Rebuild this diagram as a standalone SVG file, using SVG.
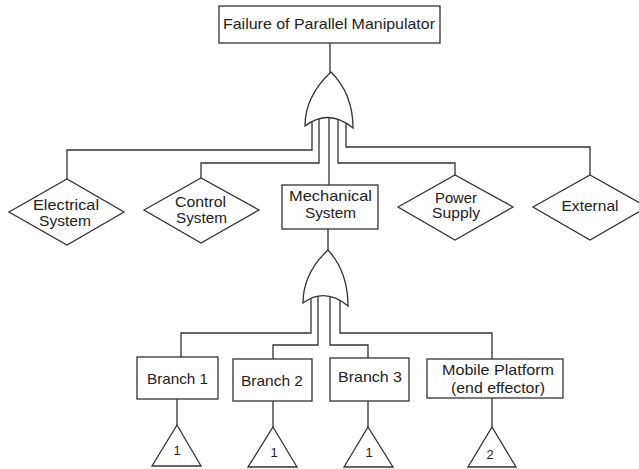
<svg xmlns="http://www.w3.org/2000/svg" width="639" height="469" viewBox="0 0 639 469">
<style>
.ln{fill:none;stroke:#333;stroke-width:1.3}
.sh{fill:#fff;stroke:#333;stroke-width:1.3}
text{font-family:"Liberation Sans",Arial,sans-serif;font-size:14.5px;fill:#222;text-anchor:middle}
.num{font-size:13px}
</style>
<rect width="639" height="469" fill="#fff"/>
<g id="connectors" class="ln">
<path d="M330,43 V74"/>
<path d="M312,112 V150 H67 V179"/>
<path d="M319,112 V163 H201 V178"/>
<path d="M329,112 V185"/>
<path d="M338,112 V163 H455 V175"/>
<path d="M346,112 V147 H590 V175"/>
<path d="M328,229 V252"/>
<path d="M311,290 V333 H181 V357"/>
<path d="M318,290 V345 H273 V359"/>
<path d="M330,290 V345 H368 V358"/>
<path d="M340,290 V333 H492 V359"/>
<path d="M177,399 V425"/>
<path d="M273,401 V427"/>
<path d="M368,401 V427"/>
<path d="M492,398 V427"/>
</g>
<g id="top">
<rect class="sh" x="219" y="6" width="221" height="37"/>
<text x="329" y="29" textLength="212" lengthAdjust="spacingAndGlyphs">Failure of Parallel Manipulator</text>
</g>
<g id="gate1">
<path class="sh" d="M331,72 C316,86 305,104 305,126 Q329,108 353,128 C353,102 344,85 331,72 Z"/>
</g>
<g id="electrical">
<polygon class="sh" points="9,212 67,179 124,212 67,245"/>
<text x="66" y="210" textLength="66" lengthAdjust="spacingAndGlyphs">Electrical</text>
<text x="65" y="226" textLength="52" lengthAdjust="spacingAndGlyphs">System</text>
</g>
<g id="control">
<polygon class="sh" points="144,210 201,178 259,210 201,243"/>
<text x="200.5" y="207" textLength="51" lengthAdjust="spacingAndGlyphs">Control</text>
<text x="201.5" y="223" textLength="51" lengthAdjust="spacingAndGlyphs">System</text>
</g>
<g id="mechanical">
<rect class="sh" x="282" y="185" width="96" height="44"/>
<text x="330.5" y="201" textLength="83" lengthAdjust="spacingAndGlyphs">Mechanical</text>
<text x="330.5" y="218" textLength="51" lengthAdjust="spacingAndGlyphs">System</text>
</g>
<g id="power">
<polygon class="sh" points="398,207 455,175 513,207 455,240"/>
<text x="456" y="203" textLength="42" lengthAdjust="spacingAndGlyphs">Power</text>
<text x="456" y="218" textLength="48" lengthAdjust="spacingAndGlyphs">Supply</text>
</g>
<g id="external">
<polygon class="sh" points="533,207 590,175 647,207 590,240"/>
<text x="590" y="211" textLength="57" lengthAdjust="spacingAndGlyphs">External</text>
</g>
<g id="gate2">
<path class="sh" d="M328,250 C313,264 303,281 303,303 Q325,287 348,306 C348,280 340,263 328,250 Z"/>
</g>
<g id="branch1">
<rect class="sh" x="137" y="357" width="81" height="42"/>
<text x="177.5" y="384" textLength="61" lengthAdjust="spacingAndGlyphs">Branch 1</text>
</g>
<g id="branch2">
<rect class="sh" x="233" y="359" width="79" height="42"/>
<text x="272" y="386" textLength="62" lengthAdjust="spacingAndGlyphs">Branch 2</text>
</g>
<g id="branch3">
<rect class="sh" x="330" y="358" width="79" height="43"/>
<text x="370" y="382" textLength="64" lengthAdjust="spacingAndGlyphs">Branch 3</text>
</g>
<g id="mobile">
<rect class="sh" x="427" y="359" width="136" height="39"/>
<text x="498" y="375" textLength="112" lengthAdjust="spacingAndGlyphs">Mobile Platform</text>
<text x="498" y="393" textLength="94" lengthAdjust="spacingAndGlyphs">(end effector)</text>
</g>
<g id="transfer1">
<polygon class="sh" points="177,425 201,466 152,466"/>
<text class="num" x="177" y="455">1</text>
</g>
<g id="transfer2">
<polygon class="sh" points="273,427 297,467 248,467"/>
<text class="num" x="274" y="457">1</text>
</g>
<g id="transfer3">
<polygon class="sh" points="368,427 393,467 344,467"/>
<text class="num" x="369" y="457">1</text>
</g>
<g id="transfer4">
<polygon class="sh" points="492,427 516,467 468,467"/>
<text class="num" x="490" y="459">2</text>
</g>
</svg>
